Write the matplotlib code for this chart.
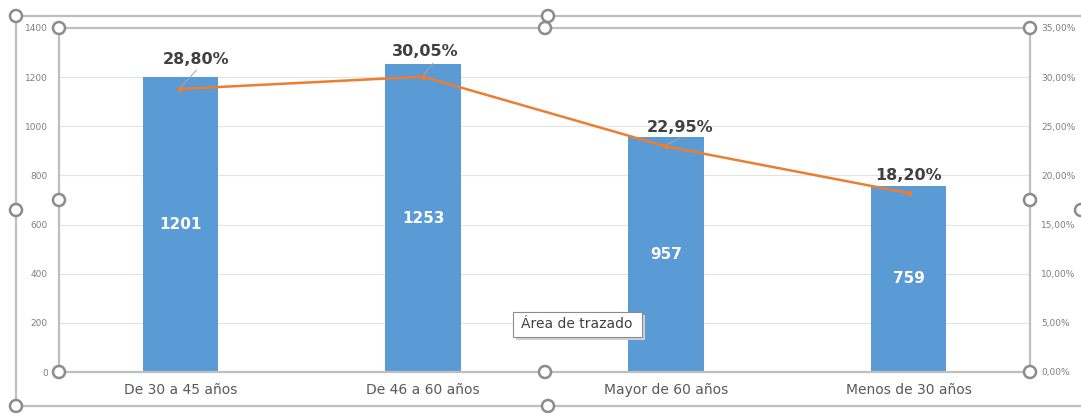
import matplotlib.pyplot as plt
from matplotlib.patches import Circle, Rectangle
from matplotlib.lines import Line2D

categorias = ['De 30 a 45 años', 'De 46 a 60 años', 'Mayor de 60 años', 'Menos de 30 años']
cantidades = [1201, 1253, 957, 759]
porcentajes = [28.80, 30.05, 22.95, 18.20]

W, H = 1081, 413
fig = plt.figure(figsize=(W / 100, H / 100), dpi=100)

# plot area in pixels: x 59..1030, y 28..372
x0, x1, y0, y1 = 59, 1030, 28, 372
ax = fig.add_axes([x0 / W, 1 - y1 / H, (x1 - x0) / W, (y1 - y0) / H])
ax2 = ax.twinx()

pos = list(range(len(categorias)))
bars = ax.bar(pos, cantidades, width=0.31, color='#5B9BD5', zorder=2)
ax.set_xlim(-0.5, len(categorias) - 0.5)
ax.set_ylim(0, 1400)
ax.set_yticks(range(0, 1401, 200))
ax.grid(axis='y', color='#e3e3e3', linewidth=0.8, zorder=0)
ax.set_axisbelow(True)
ax.set_xticks(pos)
ax.set_xticklabels(categorias, fontsize=10, color='#595959')
ax.tick_params(axis='x', length=0, pad=8)
ax.tick_params(axis='y', length=0, labelsize=6.5, labelcolor='#7f7f7f', pad=8)

for b, v in zip(bars, cantidades):
    ax.text(b.get_x() + b.get_width() / 2, v / 2, str(v), ha='center', va='center',
            color='white', fontsize=11, fontweight='bold', zorder=3)

ax2.plot(pos, porcentajes, color='#ED7D31', linewidth=1.8, marker='o', markersize=3, zorder=4)
ax2.set_ylim(0, 35)
ax2.set_yticks([i * 5 for i in range(8)])
ax2.set_yticklabels(['%d,00%%' % (i * 5) for i in range(8)])
ax2.tick_params(axis='y', length=0, labelsize=6.5, labelcolor='#7f7f7f', pad=8)

# label placement (Excel moved some labels by hand), with leader lines
dx = [0.066, 0.01, 0.058, 0.0]
dy = [2.95, 2.6, 1.9, 1.75]
for p, v, ox, oy in zip(pos, porcentajes, dx, dy):
    lbl = ('%.2f%%' % v).replace('.', ',')
    ax2.text(p + ox, v + oy, lbl, ha='center', va='center', fontsize=11.5,
             fontweight='bold', color='#404040', zorder=5)
    if ox > 0.03:
        ax2.plot([p, p + ox], [v + 0.15, v + oy - 1.05], color='#a6a6a6',
                 linewidth=0.7, zorder=3)
ax2.plot([pos[1], pos[1] + 0.04], [porcentajes[1] + 0.15, porcentajes[1] + 1.35],
         color='#a6a6a6', linewidth=0.7, zorder=3)

for a in (ax, ax2):
    for s in a.spines.values():
        s.set_visible(False)


# selection frames (chart and plot area)
def px(x, y):
    return x / W, 1 - y / H


frame_col = '#bfbfbf'
lines = [
    [(16, 16), (1081, 16)], [(16, 16), (16, 406)], [(16, 406), (1081, 406)],
    [(x0, y0), (x1, y0)], [(x0, y0), (x0, y1)], [(x1, y0), (x1, y1)], [(x0, y1), (x1, y1)],
]
for (a, b) in lines:
    xa, ya = px(*a)
    xb, yb = px(*b)
    fig.add_artist(Line2D([xa, xb], [ya, yb], color=frame_col, linewidth=1.6, zorder=6))

handles = [(16, 16), (548, 16), (16, 210), (16, 406), (548, 406), (1081, 210),
           (x0, y0), (545, y0), (x1, y0), (x0, 200), (x1, 200), (x0, y1), (545, y1), (x1, y1)]
for (hx, hy) in handles:
    fig.add_artist(Circle((hx, H - hy), 6, transform=None, facecolor='white',
                          edgecolor='#8c8c8c', linewidth=1.8, zorder=7))

# tooltip
fig.add_artist(Rectangle((516, H - 340), 129, 25, transform=None, facecolor='#d0d0d0',
                         edgecolor='none', zorder=7))
fig.add_artist(Rectangle((513, H - 337), 129, 25, transform=None, facecolor='white',
                         edgecolor='#8c8c8c', linewidth=0.8, zorder=8))
fig.text(577 / W, 1 - 324.5 / H, 'Área de trazado', ha='center', va='center',
         fontsize=10, color='#404040', zorder=9)

fig.savefig('out.png', dpi=100)
